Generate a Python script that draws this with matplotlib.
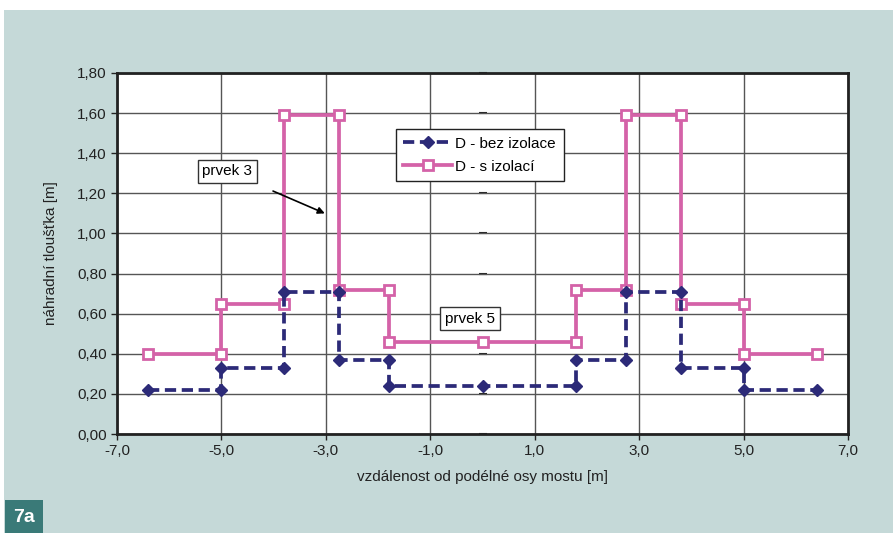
import matplotlib
matplotlib.use('Agg')
from matplotlib import pyplot as plt
from matplotlib.ticker import FuncFormatter, MultipleLocator, FixedLocator, NullFormatter
from matplotlib.patches import Rectangle

plt.rcParams['font.family'] = ['Liberation Sans', 'DejaVu Sans']

# step profile, each step has its x twice
x_bez = [-6.4, -5.0, -5.0, -3.8, -3.8, -2.75, -2.75, -1.8, -1.8, 0.0,
         1.8, 1.8, 2.75, 2.75, 3.8, 3.8, 5.0, 5.0, 6.4]
y_bez = [0.22, 0.22, 0.33, 0.33, 0.71, 0.71, 0.37, 0.37, 0.24, 0.24,
         0.24, 0.37, 0.37, 0.71, 0.71, 0.33, 0.33, 0.22, 0.22]

x_s = [-6.4, -5.0, -5.0, -3.8, -3.8, -2.75, -2.75, -1.8, -1.8, 0.0,
       1.8, 1.8, 2.75, 2.75, 3.8, 3.8, 5.0, 5.0, 6.4]
y_s = [0.40, 0.40, 0.65, 0.65, 1.59, 1.59, 0.72, 0.72, 0.46, 0.46,
       0.46, 0.72, 0.72, 1.59, 1.59, 0.65, 0.65, 0.40, 0.40]

x_ticks = [-7, -5, -3, -1, 1, 3, 5, 7]

bg = '#c5d9d8'
blue = '#2c2a78'
pink = '#d462a8'

fig = plt.figure(figsize=(8.93, 5.33), dpi=100, facecolor='white')
fig.patches.append(Rectangle((0.004, 0), 0.996, 1 - 10/533, transform=fig.transFigure,
                             facecolor=bg, edgecolor='none', zorder=-10))
fig.patches.append(Rectangle((5/893, 0), 38/893, 33/533, transform=fig.transFigure,
                             facecolor='#3a7a78', edgecolor='none', zorder=-5))
fig.text(24/893, 16/533, '7a', color='white', fontsize=14, fontweight='bold',
         ha='center', va='center')

ax = fig.add_axes([117/893, 99/533, 731/893, 361/533])
ax.set_facecolor('white')

ax.plot(x_bez, y_bez, color=blue, lw=2.7, linestyle=(0, (3, 1.5)),
        marker='D', markersize=6, markerfacecolor=blue, markeredgecolor=blue,
        label='D - bez izolace', zorder=3)
ax.plot(x_s, y_s, color=pink, lw=2.7, marker='s', markersize=7.5,
        markerfacecolor='white', markeredgecolor=pink, markeredgewidth=2,
        label='D - s izolací', zorder=2)

ax.set_xlim(-7, 7)
ax.set_ylim(0, 1.8)
ax.xaxis.set_major_locator(FixedLocator(x_ticks))
ax.yaxis.set_major_locator(MultipleLocator(0.2))
ax.xaxis.set_major_formatter(FuncFormatter(lambda v, p: ('%.1f' % v).replace('.', ',')))
ax.yaxis.set_major_formatter(FuncFormatter(lambda v, p: ('%.2f' % v).replace('.', ',')))
ax.tick_params(labelsize=11, colors='#222222', length=4, width=1)
ax.grid(True, color='#555555', lw=1)
ax.set_axisbelow(True)
for s in ax.spines.values():
    s.set_color('#222222')
    s.set_linewidth(2)

# y axis crossing at x = 0 (only tick marks visible)
sec = ax.secondary_yaxis(0.5)
for s in sec.spines.values():
    s.set_visible(False)
sec.yaxis.set_major_locator(MultipleLocator(0.2))
sec.yaxis.set_major_formatter(NullFormatter())
sec.tick_params(direction='inout', length=6, width=1.5, colors='#222222')

ax.set_xlabel('vzdálenost od podélné osy mostu [m]', fontsize=11, color='#222222', labelpad=8)
ax.set_ylabel('náhradní tloušťka [m]', fontsize=11, color='#222222', labelpad=14)

leg = ax.legend(loc='upper left', bbox_to_anchor=(0.371, 0.866), fontsize=11,
                fancybox=False, framealpha=1, edgecolor='#222222',
                handlelength=3.2, handletextpad=0.2, borderpad=0.5, labelspacing=0.6)
leg.get_frame().set_linewidth(1)

ax.annotate('prvek 3', xy=(-3.02, 1.10), xytext=(-4.89, 1.31),
            fontsize=11, ha='center', va='center',
            bbox=dict(boxstyle='square,pad=0.3', fc='white', ec='#333333', lw=1),
            arrowprops=dict(arrowstyle='-|>', color='black', lw=1.2,
                            shrinkA=14, shrinkB=0, mutation_scale=10))
ax.text(-0.24, 0.575, 'prvek 5', fontsize=11, ha='center', va='center',
        bbox=dict(boxstyle='square,pad=0.3', fc='white', ec='#333333', lw=1))

plt.savefig('out.png', dpi=100, facecolor=fig.get_facecolor())
